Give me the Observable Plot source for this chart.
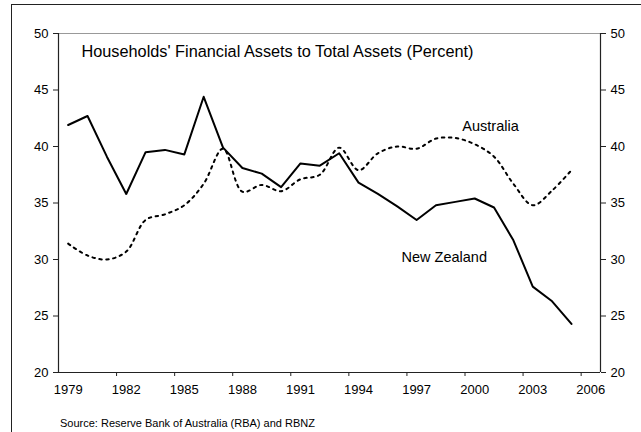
<!DOCTYPE html>
<html>
<head>
<meta charset="utf-8">
<script src="https://cdn.jsdelivr.net/npm/d3@7"></script>
<script src="https://cdn.jsdelivr.net/npm/@observablehq/plot@0.6"></script>
<style>
  html, body { margin: 0; padding: 0; background: #fff; }
  #wrap { position: relative; width: 641px; height: 432px; overflow: hidden; }
  #frame { position: absolute; left: 11px; top: 4px; width: 700px; height: 500px;
           border-left: 1px solid #222; border-top: 1px solid #222; box-sizing: border-box; }
  #chart { position: absolute; left: 0; top: 0; }
</style>
</head>
<body>
<div id="wrap"><div id="frame"></div><div id="chart"></div></div>
<script>
const years = d3.range(1979, 2006);
const newZealand = [41.9, 42.7, 39.1, 35.8, 39.5, 39.7, 39.3, 44.4, 39.9, 38.1, 37.6, 36.4, 38.5, 38.3, 39.4, 36.8, 35.8, 34.7, 33.5, 34.8, 35.1, 35.4, 34.6, 31.7, 27.6, 26.3, 24.3];
const australia = [31.4, 30.35, 30.0, 30.7, 33.5, 34.0, 34.8, 36.7, 39.8, 36.0, 36.6, 36.05, 37.1, 37.5, 39.9, 37.9, 39.4, 40.0, 39.8, 40.7, 40.75, 40.2, 39.1, 36.7, 34.8, 36.1, 37.9];
const yTicks = [20, 25, 30, 35, 40, 45, 50];
const xLabels = [1979, 1982, 1985, 1988, 1991, 1994, 1997, 2000, 2003, 2006];
const xTickMarks = [1981.5, 1984.5, 1987.5, 1990.5, 1993.5, 1996.5, 1999.5, 2002.5, 2005.5];
const titleText = "Households' Financial Assets to Total Assets (Percent)";
const sourceText = "Source: Reserve Bank of Australia (RBA) and RBNZ";
const seriesLabels = [
  {name: "Australia", year: 1999.36, value: 41.4},
  {name: "New Zealand", year: 1996.22, value: 29.75}
];

const nz = years.map((y, i) => ({year: y, value: newZealand[i]}));
const au = years.map((y, i) => ({year: y, value: australia[i]}));

const font = "'Liberation Sans', Arial, sans-serif";

const chart = Plot.plot({
  width: 641,
  height: 432,
  marginLeft: 58,
  marginRight: 41,
  marginTop: 33,
  marginBottom: 60,
  style: {fontFamily: font, fontSize: "13px", color: "#000", background: "transparent", overflow: "visible"},
  x: {domain: [1978.5, 2006.5]},
  y: {domain: [20, 50]},
  marks: [
    Plot.ruleY([50], {stroke: "#999", strokeWidth: 1}),
    Plot.ruleX([1978.5, 2006.5], {stroke: "#222", strokeWidth: 1.2}),
    Plot.ruleY([20], {stroke: "#222", strokeWidth: 1.2}),
    Plot.axisY({anchor: "left", ticks: yTicks, tickSize: 5, tickPadding: 5, label: null, stroke: "#222", fontSize: 13}),
    Plot.axisY({anchor: "right", ticks: yTicks, tickSize: 5, tickPadding: 5, label: null, stroke: "#222", fontSize: 13}),
    Plot.axisX({ticks: xTickMarks, tickSize: 4, tickFormat: () => "", label: null, stroke: "#222"}),
    Plot.axisX({ticks: xLabels, tickSize: 0, tickPadding: 12, tickFormat: d => String(d), label: null, fontSize: 13}),
    Plot.line(au, {x: "year", y: "value", stroke: "#000", strokeWidth: 2, strokeDasharray: "2.5,4.5", curve: "catmull-rom"}),
    Plot.line(nz, {x: "year", y: "value", stroke: "#000", strokeWidth: 2}),
    Plot.text([titleText], {frameAnchor: "top-left", dx: 23, dy: 23.5, text: d => d, textAnchor: "start", lineAnchor: "bottom", fontSize: 16.3, fill: "#000"}),
    Plot.text(seriesLabels, {x: "year", y: "value", text: "name", textAnchor: "start", lineAnchor: "bottom", fontSize: 14.5, fill: "#000"}),
    Plot.text([sourceText], {frameAnchor: "bottom-left", dx: 1.5, dy: 54.5, text: d => d, textAnchor: "start", lineAnchor: "bottom", fontSize: 11, fill: "#000"})
  ]
});
document.getElementById("chart").appendChild(chart);
</script>
</body>
</html>
